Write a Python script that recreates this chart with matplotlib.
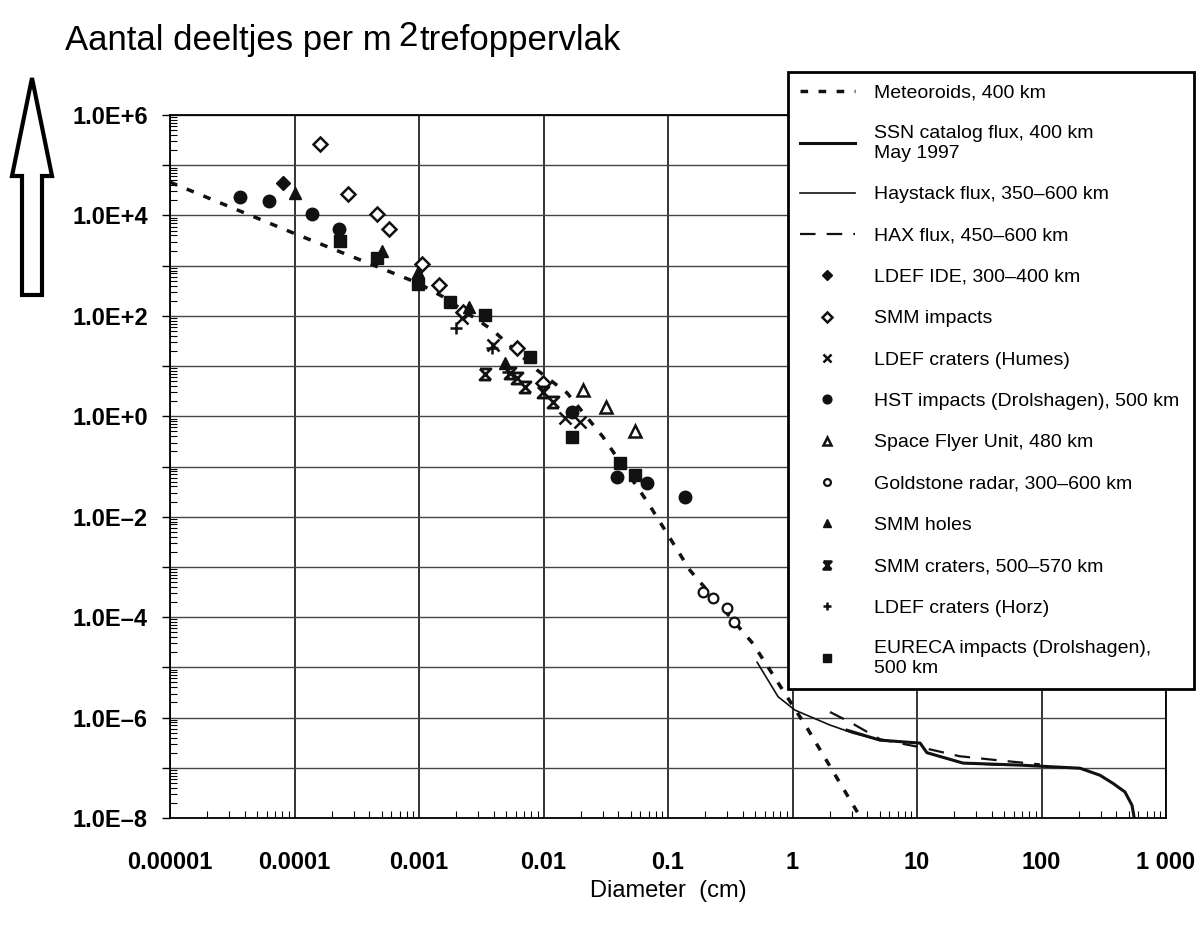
import numpy as np
import matplotlib.pyplot as plt
from matplotlib.path import Path
from matplotlib.patches import FancyArrow
from matplotlib.ticker import FixedLocator, FuncFormatter, LogLocator, NullFormatter

# diameters in cm, flux in particles per m2 per year
meteoroid_d = [1e-5, 9.7e-5, 9.8e-4, 1.56e-3, 3.9e-3, 8.9e-3, 0.0155, 0.030, 0.069, 0.150, 0.48, 1.31, 1.93, 3.5]
meteoroid_f = [4.6e4, 4.5e3, 4.5e2, 2.4e2, 52, 8.3, 2.9, 0.39, 0.019, 8.6e-4, 3.0e-5, 6.2e-7, 1.24e-7, 1.05e-8]

ssn_d = [2.74, 5.05, 10.6, 12.0, 23.4, 67, 204, 295, 375, 468, 533, 563]
ssn_f = [5.6e-7, 3.55e-7, 3.1e-7, 2.0e-7, 1.24e-7, 1.13e-7, 9.8e-8, 7.1e-8, 4.9e-8, 3.3e-8, 1.8e-8, 8.3e-9]

haystack_d = [0.52, 0.766, 1.05, 2.0, 3.06, 5.05, 10.6, 12.0, 23.4, 46]
haystack_f = [1.26e-5, 2.6e-6, 1.4e-6, 7.1e-7, 4.9e-7, 3.55e-7, 3.1e-7, 2.0e-7, 1.24e-7, 1.13e-7]

hax_d = [2.0, 2.9, 5.05, 11.6, 22, 46, 97]
hax_f = [1.29e-6, 8.1e-7, 3.7e-7, 2.45e-7, 1.7e-7, 1.4e-7, 1.17e-7]

ldef_ide_d = [8.1e-5]
ldef_ide_f = [4.5e4]

smm_imp_d = [1.6e-4, 2.7e-4, 4.6e-4, 5.75e-4, 1.06e-3, 1.45e-3, 2.25e-3, 6.1e-3, 9.9e-3]
smm_imp_f = [2.6e5, 2.7e4, 1.07e4, 5.3e3, 1.07e3, 4.1e2, 1.2e2, 23, 4.6]

ldef_humes_d = [2.2e-3, 3.9e-3, 0.0149, 0.0196]
ldef_humes_f = [91, 26, 0.91, 0.77]

hst_d = [3.65e-5, 6.2e-5, 1.38e-4, 2.27e-4, 0.0169, 0.039, 0.0678, 0.137]
hst_f = [2.3e4, 1.9e4, 1.07e4, 5.3e3, 1.2, 0.062, 0.047, 0.0245]

sfu_d = [0.0207, 0.0318, 0.054]
sfu_f = [3.3, 1.5, 0.51]

goldstone_d = [0.191, 0.23, 0.298, 0.339]
goldstone_f = [3.2e-4, 2.4e-4, 1.5e-4, 7.9e-5]

smm_holes_d = [1e-4, 5.0e-4, 9.8e-4, 2.5e-3, 4.9e-3]
smm_holes_f = [2.8e4, 2.0e3, 7.4e2, 1.5e2, 11.5]

smm_crat_d = [3.4e-3, 5.4e-3, 6.1e-3, 7.1e-3, 9.9e-3, 0.0119]
smm_crat_f = [6.9, 7.2, 5.8, 3.8, 3.0, 1.9]

ldef_horz_d = [2.0e-3, 3.85e-3, 5.2e-3]
ldef_horz_f = [57, 23, 7.6]

eureca_d = [2.3e-4, 4.6e-4, 9.8e-4, 1.77e-3, 3.4e-3, 7.8e-3, 0.0169, 0.041, 0.054]
eureca_f = [3.1e3, 1.4e3, 4.3e2, 1.85e2, 1.05e2, 15, 0.39, 0.12, 0.068]

x_labels = ["0.00001", "0.0001", "0.001", "0.01", "0.1", "1", "10", "100", "1 000"]

# x with bars marker for SMM craters
crat_marker = Path([(-1, 1), (1, 1), (-1, -1), (1, -1), (-1, 1), (1, -1)],
                   [Path.MOVETO, Path.LINETO, Path.LINETO, Path.LINETO, Path.MOVETO, Path.LINETO])

fig = plt.figure(figsize=(12.03, 9.26), dpi=100)
ax = fig.add_axes([170 / 1203, 1 - 818 / 926, 996 / 1203, 703 / 926])
ax.set_xscale('log')
ax.set_yscale('log')
ax.set_xlim(1e-5, 1e3)
ax.set_ylim(1e-8, 1e6)

k = '#111111'
ax.plot(meteoroid_d, meteoroid_f, color=k, lw=2.5, ls=(0, (2.2, 3.0)), label='Meteoroids, 400 km')
ax.plot(ssn_d, ssn_f, color=k, lw=2.2, label='SSN catalog flux, 400 km\nMay 1997')
ax.plot(haystack_d, haystack_f, color=k, lw=1.2, label='Haystack flux, 350–600 km')
ax.plot(hax_d, hax_f, color=k, lw=1.6, ls=(0, (7, 5)), label='HAX flux, 450–600 km')

ms = 8
ax.plot(ldef_ide_d, ldef_ide_f, 'D', color=k, ms=ms - 1, ls='none', label='LDEF IDE, 300–400 km')
ax.plot(smm_imp_d, smm_imp_f, 'D', mfc='white', mec=k, mew=1.8, ms=ms - 1, ls='none', label='SMM impacts')
ax.plot(ldef_humes_d, ldef_humes_f, 'x', color=k, mew=1.8, ms=ms, ls='none', label='LDEF craters (Humes)')
ax.plot(hst_d, hst_f, 'o', color=k, ms=ms + 1, ls='none', label='HST impacts (Drolshagen), 500 km')
ax.plot(sfu_d, sfu_f, '^', mfc='white', mec=k, mew=1.8, ms=ms, ls='none', label='Space Flyer Unit, 480 km')
ax.plot(goldstone_d, goldstone_f, 'o', mfc='white', mec=k, mew=1.6, ms=ms - 1, ls='none', label='Goldstone radar, 300–600 km')
ax.plot(smm_holes_d, smm_holes_f, '^', color=k, ms=ms, ls='none', label='SMM holes')
ax.plot(smm_crat_d, smm_crat_f, marker=crat_marker, mfc='none', mec=k, mew=2, ms=ms, ls='none', label='SMM craters, 500–570 km')
ax.plot(ldef_horz_d, ldef_horz_f, '+', color=k, mew=1.8, ms=ms, ls='none', label='LDEF craters (Horz)')
ax.plot(eureca_d, eureca_f, 's', color=k, ms=ms, ls='none', label='EURECA impacts (Drolshagen),\n500 km')

# ticks and grid
decades_y = [10.0 ** e for e in range(-8, 7)]
ax.yaxis.set_major_locator(FixedLocator(decades_y))


def ylab(v, pos):
    e = int(round(np.log10(v)))
    if e % 2:
        return ''
    return '1.0E' + ('+' if e >= 0 else '–') + str(abs(e))


ax.yaxis.set_major_formatter(FuncFormatter(ylab))
ax.xaxis.set_major_locator(FixedLocator([10.0 ** e for e in range(-5, 4)]))
ax.set_xticklabels(x_labels)
ax.xaxis.set_minor_locator(LogLocator(base=10, subs=np.arange(2, 10), numticks=20))
ax.yaxis.set_minor_locator(LogLocator(base=10, subs=np.arange(2, 10), numticks=30))
ax.xaxis.set_minor_formatter(NullFormatter())
ax.yaxis.set_minor_formatter(NullFormatter())

ax.tick_params(axis='y', which='major', direction='out', length=6, width=1, pad=10, labelsize=17)
ax.tick_params(axis='x', which='major', length=0, pad=24, labelsize=17)
ax.tick_params(which='minor', direction='in', length=5, width=0.8)
for lab in ax.get_xticklabels() + ax.get_yticklabels():
    lab.set_fontweight('bold')
    lab.set_fontfamily('Liberation Sans')

ax.xaxis.grid(True, which='major', color='#111111', lw=1.2)
ax.yaxis.grid(True, which='major', color='#444444', lw=1.0)
ax.set_axisbelow(True)
for s in ax.spines.values():
    s.set_linewidth(1.3)

ax.set_xlabel('Diameter  (cm)', fontsize=17, family='Liberation Sans', labelpad=4)

leg_top = 1 - 72 / 926
leg = ax.legend(loc='upper left', bbox_to_anchor=(788 / 1203, leg_top - 0.01, 406 / 1203, 0.01),
                bbox_transform=fig.transFigure, mode='expand', frameon=True, fancybox=False,
                framealpha=1, edgecolor='black', handlelength=2.8, handletextpad=1.0,
                labelspacing=1.22, borderpad=0.62, markerscale=0.7, borderaxespad=0,
                prop={'family': ['Liberation Sans Narrow', 'Liberation Sans'], 'size': 14})
leg.get_frame().set_linewidth(2)
leg.set_zorder(10)

# title with raised 2
t1 = fig.text(65 / 1203, 1 - 57 / 926, 'Aantal deeltjes per m', fontsize=25, family='Liberation Sans', va='bottom')
t2 = ax.annotate('2', xy=(1, 0), xycoords=t1, xytext=(5, 3), textcoords='offset points',
                 fontsize=25, family='Liberation Sans', va='bottom', annotation_clip=False)
ax.annotate('trefoppervlak', xy=(1, 0), xycoords=(t2, t1), xytext=(1, 0), textcoords='offset points',
            fontsize=25, family='Liberation Sans', va='bottom', annotation_clip=False)

# hollow arrow on the left
arr = FancyArrow(0.32, 6.31, 0, 2.17, width=0.20, head_width=0.40, head_length=0.98,
                 length_includes_head=True, transform=fig.dpi_scale_trans,
                 facecolor='white', edgecolor='black', lw=3)
fig.patches.append(arr)

fig.savefig('out.png', dpi=100)
